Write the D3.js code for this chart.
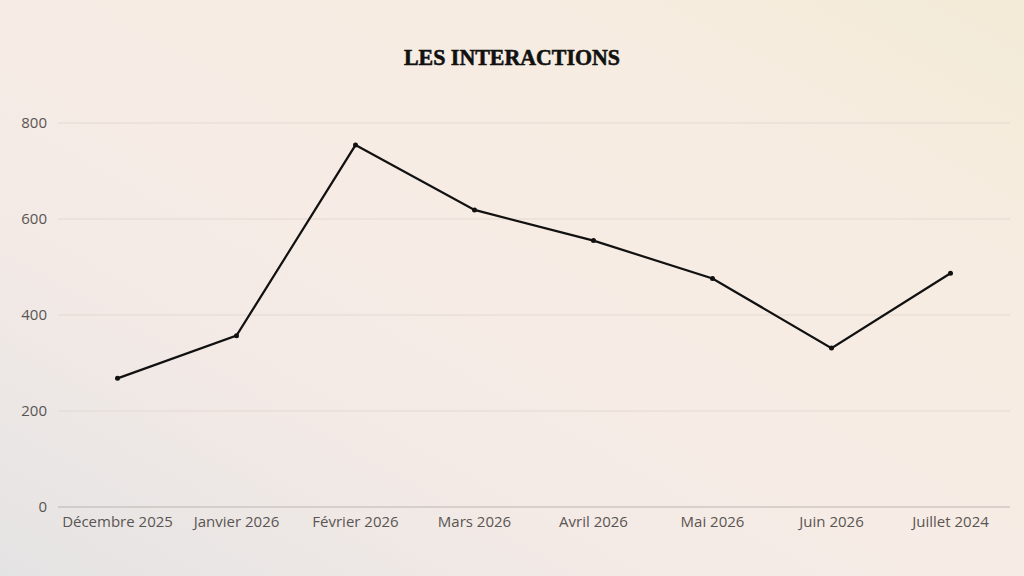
<!DOCTYPE html>
<html>
<head>
<meta charset="utf-8">
<script src="https://cdn.jsdelivr.net/npm/d3@7"></script>
<style>
  html, body { margin: 0; padding: 0; }
  body { width: 1024px; height: 576px; overflow: hidden; }
  svg { display: block; }
</style>
</head>
<body>
<svg id="chart" width="1024" height="576"></svg>
<script>
const title = "LES INTERACTIONS";
const categories = ["Décembre 2025", "Janvier 2026", "Février 2026", "Mars 2026", "Avril 2026", "Mai 2026", "Juin 2026", "Juillet 2024"];
const values = [268, 357, 754, 619, 555, 476, 331, 487];
const yTicks = [0, 200, 400, 600, 800];

const W = 1024, H = 576;
const margin = { left: 58, right: 14, top: 123, bottom: 69 };
const svg = d3.select("#chart");

const defs = svg.append("defs");
const grad = defs.append("linearGradient").attr("id", "bg")
  .attr("x1", "0%").attr("y1", "100%").attr("x2", "100%").attr("y2", "0%");
[["0%", "#e4e3e3"], ["30%", "#f3eae6"], ["50%", "#f7ece5"], ["75%", "#f6ece1"], ["100%", "#f3ebd7"]]
  .forEach(([o, c]) => grad.append("stop").attr("offset", o).attr("stop-color", c));
svg.append("rect").attr("width", W).attr("height", H).attr("fill", "url(#bg)");

const x = d3.scaleBand().domain(categories).range([margin.left, W - margin.right]);
const y = d3.scaleLinear().domain([0, 800]).range([H - margin.bottom, margin.top]);

// gridlines
svg.append("g").selectAll("line").data(yTicks).join("line")
  .attr("x1", margin.left).attr("x2", W - margin.right)
  .attr("y1", d => y(d)).attr("y2", d => y(d))
  .attr("stroke", d => d === 0 ? "#bdb5b0" : "#e3d9d1")
  .attr("stroke-width", 1);

// y axis
const yAxis = svg.append("g").attr("transform", `translate(${margin.left},0)`)
  .call(d3.axisLeft(y).tickValues(yTicks).tickSize(0).tickPadding(11));
yAxis.select(".domain").remove();
yAxis.selectAll("text").attr("font-family", "'Open Sans', sans-serif").attr("font-size", 15).attr("fill", "#5a5552");

// x axis
const xAxis = svg.append("g").attr("transform", `translate(0,${H - margin.bottom})`)
  .call(d3.axisBottom(x).tickSize(0).tickPadding(9));
xAxis.select(".domain").remove();
xAxis.selectAll("text").attr("font-family", "'Open Sans', sans-serif").attr("font-size", 15).attr("fill", "#5a5552");

// line
const line = d3.line().x((d, i) => x(categories[i]) + x.bandwidth() / 2).y(d => y(d));
svg.append("path").datum(values).attr("d", line)
  .attr("fill", "none").attr("stroke", "#111").attr("stroke-width", 2.2).attr("stroke-linejoin", "miter");

svg.append("g").selectAll("circle").data(values).join("circle")
  .attr("cx", (d, i) => x(categories[i]) + x.bandwidth() / 2)
  .attr("cy", d => y(d)).attr("r", 2.5).attr("fill", "#111");

// title
svg.append("text").attr("x", 512).attr("y", 65).attr("text-anchor", "middle")
  .attr("font-family", "'Liberation Serif', 'DejaVu Serif', serif").attr("font-weight", "bold")
  .attr("font-size", 23).attr("fill", "#111").attr("stroke", "#111").attr("stroke-width", 0.6)
  .attr("textLength", 216).attr("lengthAdjust", "spacingAndGlyphs")
  .text(title);
</script>
</body>
</html>
